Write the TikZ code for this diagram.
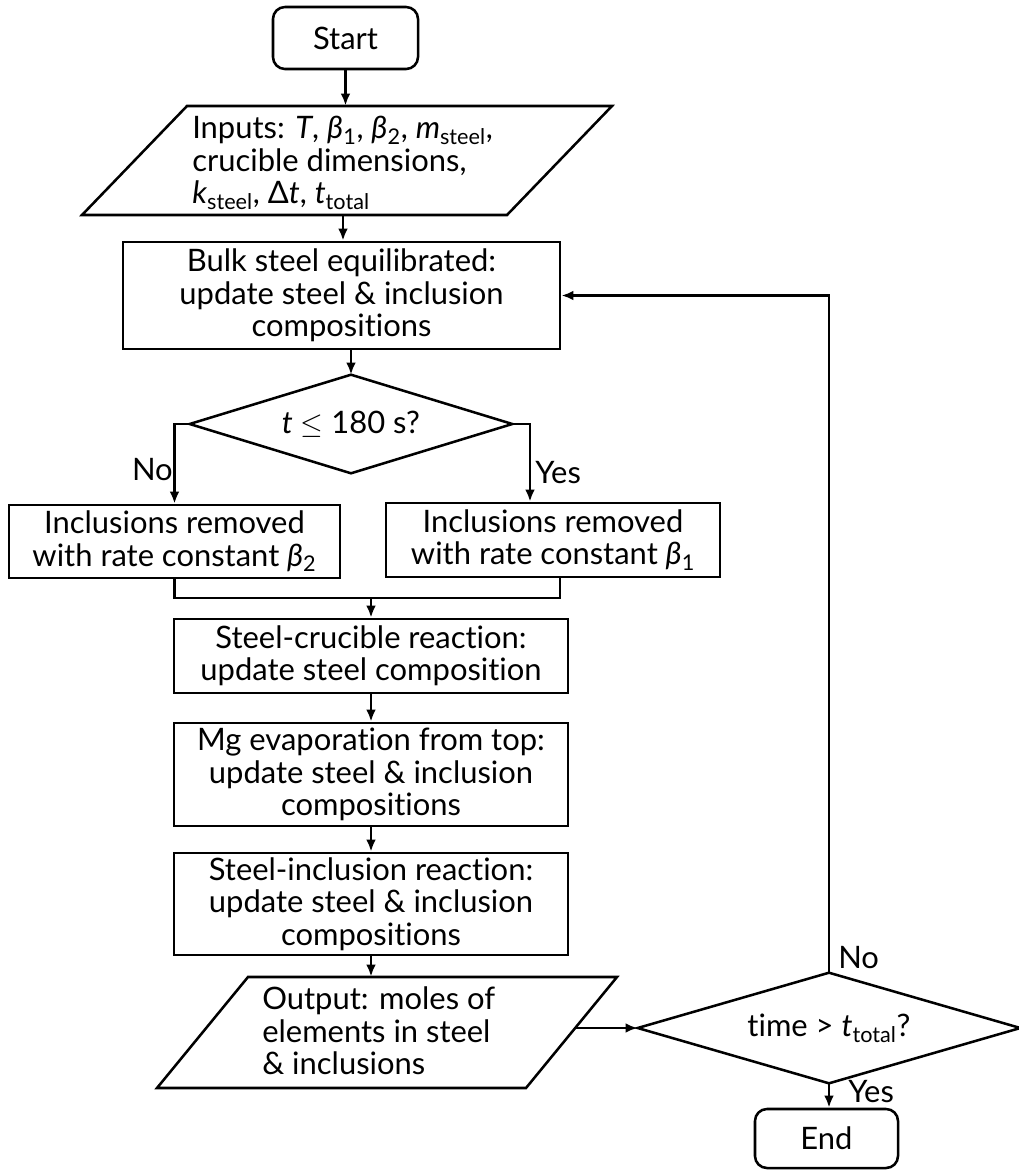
\documentclass[tikz,border=0pt]{standalone}
\usepackage{fontspec}
\setmainfont[Ligatures=NoCommon]{Lato}
\usetikzlibrary{shapes.geometric,arrows.meta,calc}
\newcommand\bet[1]{\textit{β}\textsubscript{#1}}
\begin{document}
\begin{tikzpicture}[x=0.025cm,y=-0.025cm,
  every node/.style={font=\fontsize{22pt}{23pt}\selectfont, inner sep=0pt},
  line/.style={line width=1.8pt},
  arrow/.style={line width=1.8pt,-{Latex[length=3mm,width=2.4mm]}},
  boxnode/.style={draw, line width=1.8pt, align=center, minimum width=9.85cm},
  termnode/.style={draw, line width=1.8pt, rounded corners=0.3cm},
  decnode/.style={align=center},
  lbl/.style={}
]
\fill[white] (0,0) rectangle (1019,1171);
\useasboundingbox (0,0) rectangle (1019,1171);

% Start
\node[termnode, minimum width=3.625cm, minimum height=1.55cm] (start) at (345.5,38) {Start};

% Input parallelogram
\node[minimum width=10.6cm, minimum height=2.725cm] (in) at (343,160.5) {};
\draw[line] (187,106) -- (612,106) -- (507,215) -- (82,215) -- cycle;
\node[anchor=west, align=left] (intext) at (192,163)
  {Inputs: \textit{T}, \bet{1}, \bet{2}, \textit{m}\textsubscript{steel},\\
   crucible dimensions,\\
   \textit{k}\textsubscript{steel}, Δ\textit{t}, \textit{t}\textsubscript{total}};

% Bulk
\node[boxnode, minimum width=10.925cm, minimum height=2.675cm] (bulk) at (341.5,295.5)
  {Bulk steel equilibrated:\\update steel \& inclusion\\compositions};

% Decision 1
\node[decnode, minimum width=8.05cm, minimum height=2.45cm] (d1) at (351,424)
  {\textit{t} $\leq$ 180 s?};
\draw[line] (d1.north) -- (d1.east) -- (d1.south) -- (d1.west) -- cycle;

% Branch boxes
\node[boxnode, minimum width=8.275cm, minimum height=1.825cm] (left) at (174.5,541.5)
  {Inclusions removed\\with rate constant \bet{2}};
\node[boxnode, minimum width=8.35cm, minimum height=1.85cm] (right) at (553,540)
  {Inclusions removed\\with rate constant \bet{1}};

% Process boxes
\node[boxnode, minimum height=1.85cm] (cruc) at (371,656)
  {Steel-crucible reaction:\\update steel composition};
\node[boxnode, minimum height=2.575cm] (mg) at (371,774.5)
  {Mg evaporation from top:\\update steel \& inclusion\\compositions};
\node[boxnode, minimum height=2.55cm] (si) at (371,904)
  {Steel-inclusion reaction:\\update steel \& inclusion\\compositions};

% Output parallelogram
\node[minimum width=9cm, minimum height=2.775cm] (out) at (372,1032.5) {};
\draw[line] (248,977) -- (617,977) -- (526,1088) -- (157,1088) -- cycle;
\node[anchor=west, align=left] (outtext) at (262,1031)
  {Output: moles of\\elements in steel\\\& inclusions};
\coordinate (outR) at (575,1028);

% Decision 2
\node[decnode, minimum width=9.55cm, minimum height=2.75cm] (d2) at (829,1028)
  {time > \textit{t}\textsubscript{total}?};
\draw[line] (d2.north) -- (d2.east) -- (d2.south) -- (d2.west) -- cycle;

% End
\node[termnode, minimum width=3.575cm, minimum height=1.475cm] (end) at (826.5,1138.5) {End};

% Labels
\node[anchor=base east] (lno) at (173,480) {No};
\node[anchor=base west] (lyes) at (535,483) {Yes};
\node[anchor=base west] (lno2) at (838,968) {No};
\node[anchor=base west] (lyes2) at (848,1102) {Yes};

% Connectors
\draw[arrow] (start.south) -- (start.south |- in.north);
\draw[arrow] (in.south) -- (in.south |- bulk.north);
\draw[arrow] (d1.north |- bulk.south) -- (d1.north);
\draw[arrow] (d1.west) -| (left.north);
\coordinate (yesdn) at ([xshift=-0.575cm]right.north);
\draw[arrow] (d1.east) -| (yesdn);
\coordinate (merge) at (371,598);
\coordinate (rightup) at ([xshift=0.175cm]right.south);
\draw[line] (left.south) |- (merge) -| (rightup);
\draw[arrow] (merge) -- (cruc.north);
\draw[arrow] (cruc.south) -- (mg.north);
\draw[arrow] (mg.south) -- (si.north);
\draw[arrow] (si.south) -- (si.south |- out.north);
\draw[arrow] (outR) -- (d2.west);
\draw[arrow] (d2.north) |- (bulk.east);
\draw[arrow] (d2.south) -- (d2.south |- end.north);
\end{tikzpicture}
\end{document}
